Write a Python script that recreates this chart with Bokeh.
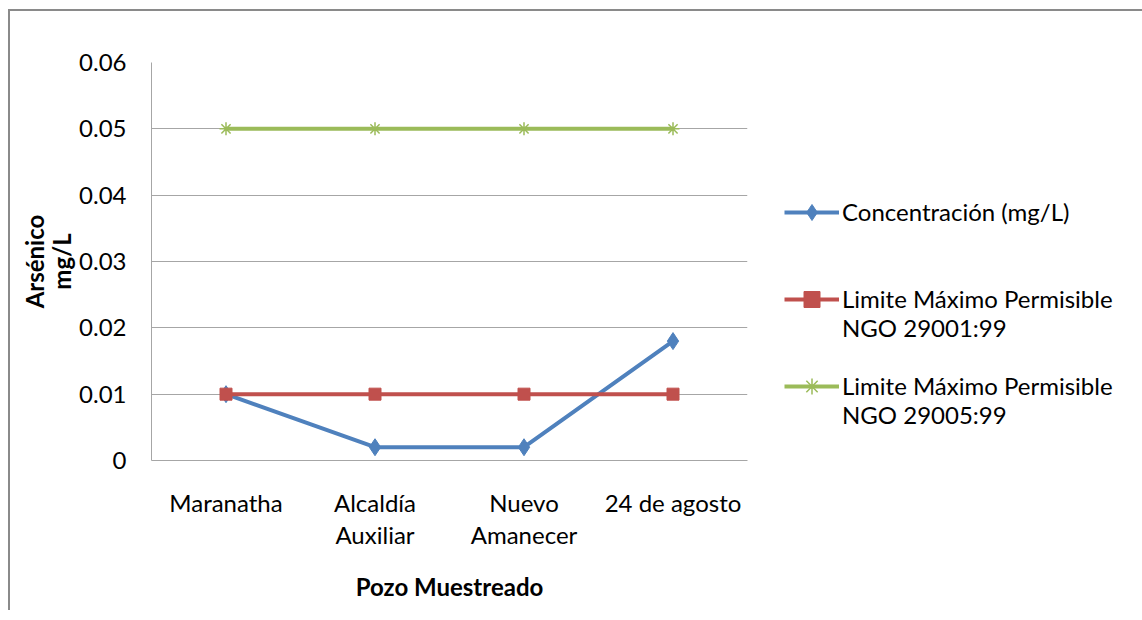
from bokeh.plotting import figure
from bokeh.models import Range1d, FixedTicker, NumeralTickFormatter, Legend, LegendItem
from bokeh.embed import file_html
from bokeh.resources import INLINE

categories = ["Maranatha", "Alcaldía\nAuxiliar", "Nuevo\nAmanecer", "24 de agosto"]
concentracion = [0.010, 0.002, 0.002, 0.018]
limite_29001 = [0.010, 0.010, 0.010, 0.010]
limite_29005 = [0.050, 0.050, 0.050, 0.050]
y_ticks = [0.0, 0.01, 0.02, 0.03, 0.04, 0.05, 0.06]

names = ["Concentración (mg/L)",
         "Limite Máximo Permisible\nNGO 29001:99",
         "Limite Máximo Permisible\nNGO 29005:99"]


def legend_label(name):
    # pad with blank lines so the legend glyph sits beside the first text line
    lines = name.split("\n")
    return "\n".join([" "] + lines + [" "] * (2 - len(lines)))


FONT = "Lato"
BLUE = "#4F81BD"
RED = "#C0504D"
GREEN = "#9BBB59"
GRID = "#A6A6A6"
FS = "24px"

p = figure(x_range=categories, y_range=Range1d(0, 0.06),
           frame_width=596, frame_height=398,
           output_backend="svg", toolbar_location=None,
           min_border_left=141, min_border_top=51, min_border_bottom=150,
           min_border_right=386)
p.styles = {"margin-left": "8px", "margin-top": "9px",
            "border-left": "2px solid #8a8a8a", "border-top": "2px solid #8a8a8a"}

p.outline_line_color = None
p.xgrid.grid_line_color = None
p.ygrid.grid_line_color = GRID
p.ygrid.grid_line_width = 1

p.yaxis.ticker = FixedTicker(ticks=y_ticks)
p.yaxis.formatter = NumeralTickFormatter(format="0.[00]")
for ax in (p.xaxis[0], p.yaxis[0]):
    ax.axis_line_color = GRID
    ax.major_tick_line_color = None
    ax.minor_tick_line_color = None
    ax.major_tick_out = 0
    ax.major_tick_in = 0
    ax.minor_tick_out = 0
    ax.minor_tick_in = 0
    ax.major_label_text_font = FONT
    ax.major_label_text_font_size = FS
    ax.major_label_text_color = "#000000"
    ax.axis_label_text_font = FONT
    ax.axis_label_text_font_size = FS
    ax.axis_label_text_font_style = "bold"
    ax.axis_label_text_color = "#000000"

p.xaxis.major_label_text_line_height = 1.12
p.yaxis.major_label_standoff = 25
p.xaxis.major_label_standoff = 27
p.yaxis.axis_label = "Arsénico\nmg/L"
p.yaxis.axis_label_text_line_height = 0.93
p.yaxis.axis_label_standoff = 0
p.xaxis.axis_label = "Pozo Muestreado"
p.xaxis.axis_label_standoff = 20

l1 = p.line(categories, concentracion, line_color=BLUE, line_width=4)
m1 = p.scatter(categories, concentracion, marker="diamond", size=17,
               fill_color=BLUE, line_color=BLUE)
l2 = p.line(categories, limite_29001, line_color=RED, line_width=4)
m2 = p.scatter(categories, limite_29001, marker="square", size=12,
               fill_color=RED, line_color=RED)
l3 = p.line(categories, limite_29005, line_color=GREEN, line_width=4)
m3 = p.scatter(categories, limite_29005, marker="asterisk", size=13,
               line_color=GREEN, line_width=1.5)

legend = Legend(items=[
    LegendItem(label=legend_label(names[0]), renderers=[l1, m1]),
    LegendItem(label=legend_label(names[1]), renderers=[l2, m2]),
    LegendItem(label=legend_label(names[2]), renderers=[l3, m3]),
], location=(37, 31))
legend.label_text_font = FONT
legend.label_text_font_size = FS
legend.label_text_line_height = 1.15
legend.label_text_color = "#000000"
legend.glyph_width = 55
legend.glyph_height = 40
legend.label_standoff = 3
legend.spacing = 0
legend.border_line_color = None
legend.background_fill_alpha = 0
legend.padding = 0
legend.margin = 0
p.add_layout(legend, "right")

open("out.html", "w").write(file_html(p, INLINE))
